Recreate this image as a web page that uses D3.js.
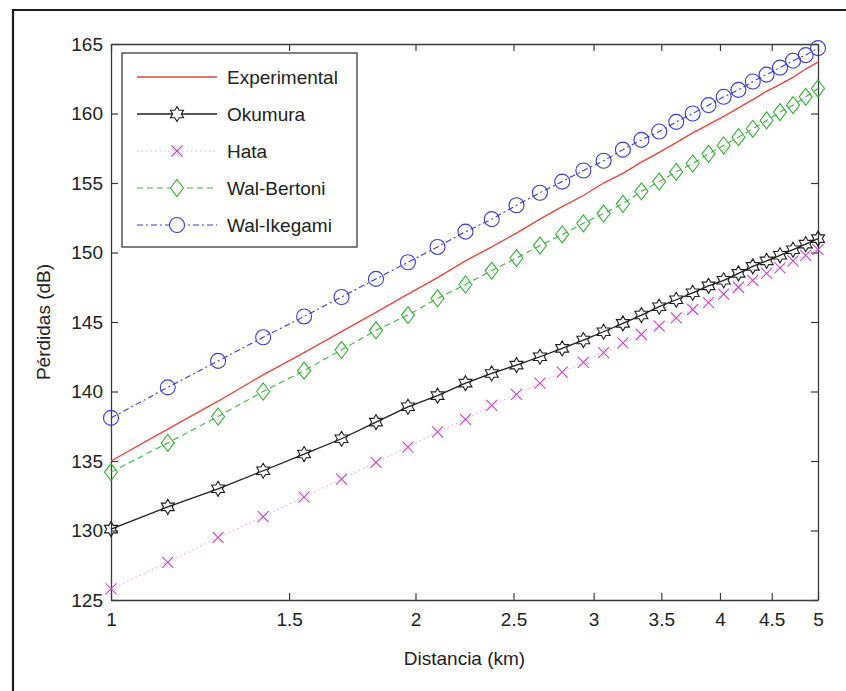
<!DOCTYPE html>
<html>
<head>
<meta charset="utf-8">
<script src="https://cdn.jsdelivr.net/npm/d3@7"></script>
<style>
  html, body { margin: 0; padding: 0; background: #fff; }
  svg { display: block; }
</style>
</head>
<body>
<svg id="chart" width="846" height="691"></svg>
<script>
// Distancia (km) de cada punto calculado
const distancia = [1.000, 1.138, 1.276, 1.414, 1.552, 1.690, 1.828, 1.966, 2.103, 2.241,
                   2.379, 2.517, 2.655, 2.793, 2.931, 3.069, 3.207, 3.345, 3.483, 3.621,
                   3.759, 3.897, 4.034, 4.172, 4.310, 4.448, 4.586, 4.724, 4.862, 5.000];

// Pérdidas (dB) por modelo
const experimental = [135.0, 137.3, 139.3, 141.2, 142.8, 144.3, 145.7, 147.0, 148.2, 149.4,
                      150.4, 151.4, 152.4, 153.3, 154.1, 155.0, 155.7, 156.5, 157.2, 157.9,
                      158.6, 159.2, 159.8, 160.4, 161.0, 161.6, 162.1, 162.6, 163.2, 163.7];
const okumura = [130.1, 131.7, 133.0, 134.3, 135.5, 136.6, 137.8, 138.9, 139.7, 140.6,
                 141.3, 141.9, 142.5, 143.1, 143.7, 144.3, 144.9, 145.5, 146.1, 146.6,
                 147.1, 147.6, 148.0, 148.5, 149.0, 149.4, 149.8, 150.2, 150.6, 151.0];
const hata = [125.8, 127.7, 129.5, 131.0, 132.4, 133.7, 134.9, 136.0, 137.1, 138.0,
              139.0, 139.8, 140.6, 141.4, 142.1, 142.8, 143.5, 144.1, 144.7, 145.3,
              145.9, 146.4, 147.0, 147.5, 148.0, 148.5, 148.9, 149.4, 149.8, 150.2];
const walBertoni = [134.2, 136.3, 138.2, 140.0, 141.5, 143.0, 144.4, 145.5, 146.7, 147.7,
                    148.7, 149.6, 150.5, 151.3, 152.1, 152.8, 153.5, 154.4, 155.1, 155.8,
                    156.4, 157.1, 157.7, 158.3, 158.9, 159.5, 160.1, 160.6, 161.2, 161.8];
const walIkegami = [138.1, 140.3, 142.2, 143.9, 145.4, 146.8, 148.1, 149.3, 150.4, 151.5,
                    152.4, 153.4, 154.3, 155.1, 155.9, 156.6, 157.4, 158.1, 158.7, 159.4,
                    160.0, 160.6, 161.2, 161.7, 162.3, 162.8, 163.3, 163.8, 164.2, 164.7];

const seriesNames = ["Experimental", "Okumura", "Hata", "Wal-Bertoni", "Wal-Ikegami"];

// Marcas de los ejes
const xTicks = [1, 1.5, 2, 2.5, 3, 3.5, 4, 4.5, 5];
const yTicks = [125, 130, 135, 140, 145, 150, 155, 160, 165];

const FONT = "'Liberation Sans', Arial, Helvetica, sans-serif";
const svg = d3.select("#chart");

// Marco de la figura
svg.append("path")
  .attr("d", "M13,691 L13,10 L846,10")
  .attr("fill", "none").attr("stroke", "#1a1a1a").attr("stroke-width", 2.2);

const plotL = 111, plotR = 818, plotT = 44, plotB = 600;
const x = d3.scaleLog().domain([1, 5]).range([plotL, plotR]);
const y = d3.scaleLinear().domain([125, 165]).range([plotB, plotT]);

// Formas de marcador
function hexagram(r) {
  const ri = r / Math.sqrt(3);
  const pts = [];
  for (let k = 0; k < 12; k++) {
    const a = -Math.PI / 2 + k * Math.PI / 6;
    const rr = k % 2 === 0 ? r : ri;
    pts.push([rr * Math.cos(a), rr * Math.sin(a)]);
  }
  return "M" + pts.map(p => p[0].toFixed(2) + "," + p[1].toFixed(2)).join("L") + "Z";
}
function cross(r) {
  return `M${-r},${-r}L${r},${r}M${-r},${r}L${r},${-r}`;
}
function diamond(w, h) {
  return `M0,${-h}L${w},0L0,${h}L${-w},0Z`;
}
function circle(r) {
  return `M${r},0A${r},${r} 0 1,1 ${-r},0A${r},${r} 0 1,1 ${r},0Z`;
}

const styles = {
  "Experimental": { values: experimental, line: "#e8473f", lw: 1.4, dash: null, marker: null, mc: null },
  "Okumura":      { values: okumura, line: "#1e1e1e", lw: 1.3, dash: null, marker: hexagram(7.5), mc: "#1e1e1e" },
  "Hata":         { values: hata, line: "#eeaaee", lw: 1.1, dash: "1.5,3", marker: cross(5.5), mc: "#cc44cc" },
  "Wal-Bertoni":  { values: walBertoni, line: "#3cb43c", lw: 1.1, dash: "6,4", marker: diamond(6.5, 8.5), mc: "#33b033" },
  "Wal-Ikegami":  { values: walIkegami, line: "#3a3ad6", lw: 1.1, dash: "6,3,2,3", marker: circle(7.5), mc: "#3a3ad6" }
};

// Ejes con marcas hacia dentro
function styleAxis(g) {
  g.attr("font-family", FONT).attr("font-size", 19);
  g.selectAll("path.domain").attr("stroke", "#3a3a3a").attr("stroke-width", 1.3);
  g.selectAll(".tick line").attr("stroke", "#3a3a3a").attr("stroke-width", 1.2);
  g.selectAll(".tick text").attr("fill", "#222");
}

svg.append("g").attr("transform", `translate(0,${plotB})`)
  .call(d3.axisBottom(x).tickValues(xTicks).tickFormat(d => String(d))
        .tickSizeInner(-7).tickSizeOuter(0).tickPadding(13))
  .call(styleAxis);
svg.append("g").attr("transform", `translate(0,${plotT})`)
  .call(d3.axisTop(x).tickValues(xTicks).tickFormat(() => "")
        .tickSizeInner(-7).tickSizeOuter(0))
  .call(styleAxis);
svg.append("g").attr("transform", `translate(${plotL},0)`)
  .call(d3.axisLeft(y).tickValues(yTicks).tickFormat(d => String(d))
        .tickSizeInner(-7).tickSizeOuter(0).tickPadding(8))
  .call(styleAxis);
svg.append("g").attr("transform", `translate(${plotR},0)`)
  .call(d3.axisRight(y).tickValues(yTicks).tickFormat(() => "")
        .tickSizeInner(-7).tickSizeOuter(0))
  .call(styleAxis);

// Curvas
const line = d3.line().x((d, i) => x(distancia[i])).y(d => y(d));
seriesNames.forEach(name => {
  const s = styles[name];
  svg.append("path")
    .datum(s.values)
    .attr("d", line)
    .attr("fill", "none")
    .attr("stroke", s.line)
    .attr("stroke-width", s.lw)
    .attr("stroke-dasharray", s.dash);
  if (s.marker) {
    svg.append("g").selectAll("path")
      .data(s.values)
      .join("path")
      .attr("transform", (d, i) => `translate(${x(distancia[i])},${y(d)})`)
      .attr("d", s.marker)
      .attr("fill", "none")
      .attr("stroke", s.mc)
      .attr("stroke-width", 1.1);
  }
});

// Títulos de ejes
svg.append("text")
  .attr("x", (plotL + plotR) / 2).attr("y", 665)
  .attr("text-anchor", "middle")
  .attr("font-family", FONT).attr("font-size", 19).attr("fill", "#222")
  .text("Distancia (km)");
svg.append("text")
  .attr("transform", `translate(50,${(plotT + plotB) / 2}) rotate(-90)`)
  .attr("text-anchor", "middle")
  .attr("font-family", FONT).attr("font-size", 19).attr("fill", "#222")
  .text("Pérdidas (dB)");

// Leyenda
const lg = svg.append("g");
lg.append("rect")
  .attr("x", 122).attr("y", 53).attr("width", 235).attr("height", 194)
  .attr("fill", "#fff").attr("stroke", "#3a3a3a").attr("stroke-width", 1.3);
seriesNames.forEach((name, i) => {
  const s = styles[name];
  const cy = 77 + i * 37;
  lg.append("line")
    .attr("x1", 137).attr("x2", 217).attr("y1", cy).attr("y2", cy)
    .attr("stroke", s.line).attr("stroke-width", s.lw)
    .attr("stroke-dasharray", s.dash);
  if (s.marker) {
    lg.append("path")
      .attr("transform", `translate(177,${cy})`)
      .attr("d", s.marker)
      .attr("fill", "#fff")
      .attr("stroke", s.mc).attr("stroke-width", 1.1);
  }
  lg.append("text")
    .attr("x", 227).attr("y", cy).attr("dy", "0.35em")
    .attr("font-family", FONT).attr("font-size", 19).attr("fill", "#222")
    .text(name);
});
</script>
</body>
</html>
